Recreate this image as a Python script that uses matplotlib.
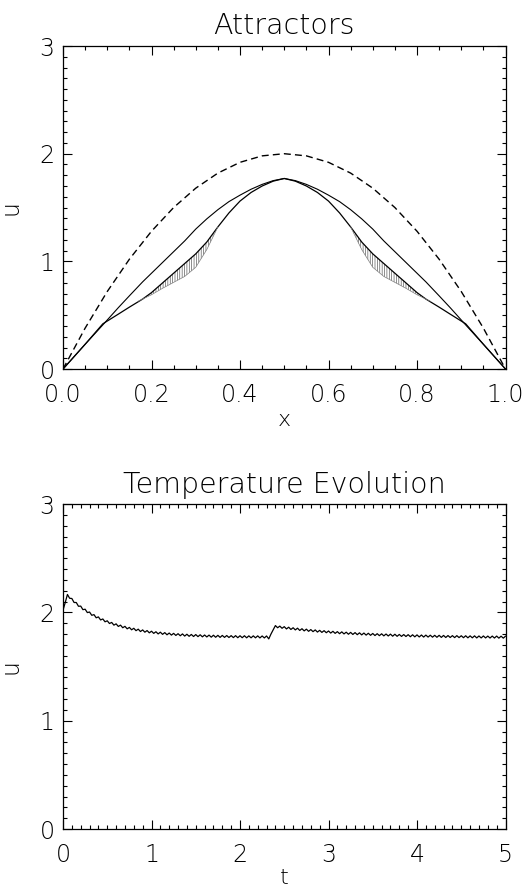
import numpy as np
import matplotlib
matplotlib.use('Agg')
import matplotlib.pyplot as plt
from matplotlib.ticker import MultipleLocator, FormatStrFormatter

# Attractor profiles u(x)
x_dash = [0.0, 0.05, 0.10, 0.15, 0.20, 0.25, 0.30, 0.35, 0.40, 0.45, 0.50,
          0.55, 0.60, 0.65, 0.70, 0.75, 0.80, 0.85, 0.90, 0.95, 1.0]
u_dash = [0.0, 0.38, 0.72, 1.02, 1.28, 1.50, 1.68, 1.82, 1.92, 1.98, 2.00,
          1.98, 1.92, 1.82, 1.68, 1.50, 1.28, 1.02, 0.72, 0.38, 0.0]

x_sol = [0.0, 0.05, 0.09, 0.125, 0.15, 0.18, 0.20, 0.225, 0.25, 0.275, 0.30,
         0.325, 0.35, 0.375, 0.40, 0.425, 0.45, 0.475, 0.50,
         0.525, 0.55, 0.575, 0.60, 0.625, 0.65, 0.675, 0.70, 0.725, 0.75,
         0.775, 0.80, 0.82, 0.85, 0.875, 0.91, 0.95, 1.0]
u_outer = [0.0, 0.23, 0.41, 0.57, 0.68, 0.81, 0.89, 0.99, 1.09, 1.19, 1.30,
           1.395, 1.48, 1.555, 1.615, 1.67, 1.715, 1.75, 1.77,
           1.75, 1.715, 1.67, 1.615, 1.555, 1.48, 1.395, 1.30, 1.19, 1.09,
           0.99, 0.89, 0.81, 0.68, 0.57, 0.41, 0.23, 0.0]
u_inner = [0.0, 0.23, 0.42, 0.51, 0.575, 0.65, 0.71, 0.80, 0.89, 0.98, 1.07,
           1.18, 1.32, 1.45, 1.56, 1.64, 1.70, 1.745, 1.77,
           1.745, 1.70, 1.64, 1.56, 1.45, 1.32, 1.18, 1.07, 0.98, 0.89,
           0.80, 0.71, 0.65, 0.575, 0.51, 0.42, 0.23, 0.0]

# lens shaped bands traced by the attractor
x_band_l = [0.17, 0.20, 0.225, 0.25, 0.275, 0.30, 0.325, 0.35]
band_l_top = [0.63, 0.71, 0.80, 0.89, 0.98, 1.07, 1.18, 1.32]
band_l_bot = [0.63, 0.69, 0.75, 0.805, 0.86, 0.945, 1.11, 1.32]
x_band_r = [0.65, 0.675, 0.70, 0.725, 0.75, 0.775, 0.80, 0.83]
band_r_top = [1.32, 1.18, 1.07, 0.98, 0.89, 0.80, 0.71, 0.63]
band_r_bot = [1.32, 1.11, 0.945, 0.86, 0.805, 0.75, 0.69, 0.63]

# Temperature u(t), sampled every 0.025
t_step = 0.025
u_t = [2.020, 2.090, 2.165, 2.130, 2.128, 2.091, 2.091, 2.056, 2.058, 2.025,
       2.029, 1.998, 2.003, 1.973, 1.979, 1.950, 1.958, 1.930, 1.939, 1.913,
       1.922, 1.897, 1.907, 1.882, 1.894, 1.870, 1.882, 1.858, 1.871, 1.848,
       1.861, 1.839, 1.853, 1.831, 1.845, 1.823, 1.838, 1.817, 1.832, 1.811,
       1.826, 1.806, 1.821, 1.801, 1.817, 1.797, 1.813, 1.793, 1.809, 1.790,
       1.806, 1.787, 1.803, 1.784, 1.801, 1.781, 1.798, 1.779, 1.796, 1.777,
       1.795, 1.776, 1.793, 1.774, 1.791, 1.773, 1.790, 1.771, 1.789, 1.770,
       1.788, 1.769, 1.787, 1.769, 1.786, 1.768, 1.785, 1.767, 1.785, 1.766,
       1.784, 1.766, 1.784, 1.765, 1.783, 1.765, 1.783, 1.765, 1.783, 1.764,
       1.782, 1.764, 1.782, 1.755, 1.800, 1.840, 1.878, 1.858, 1.873, 1.853,
       1.868, 1.847, 1.863, 1.842, 1.858, 1.838, 1.854, 1.833, 1.849, 1.829,
       1.845, 1.825, 1.841, 1.822, 1.838, 1.818, 1.834, 1.815, 1.831, 1.812,
       1.828, 1.809, 1.825, 1.806, 1.822, 1.803, 1.820, 1.801, 1.817, 1.798,
       1.815, 1.796, 1.813, 1.794, 1.811, 1.792, 1.809, 1.790, 1.807, 1.788,
       1.805, 1.786, 1.803, 1.785, 1.802, 1.783, 1.800, 1.782, 1.799, 1.780,
       1.798, 1.779, 1.796, 1.778, 1.795, 1.777, 1.794, 1.775, 1.793, 1.774,
       1.792, 1.773, 1.791, 1.772, 1.790, 1.772, 1.789, 1.771, 1.788, 1.770,
       1.788, 1.769, 1.787, 1.768, 1.786, 1.768, 1.785, 1.767, 1.785, 1.767,
       1.784, 1.766, 1.784, 1.765, 1.783, 1.765, 1.783, 1.764, 1.782, 1.764,
       1.782, 1.764, 1.781, 1.763, 1.781, 1.763, 1.781, 1.762, 1.780, 1.762,
       1.780]
t = np.arange(len(u_t)) * t_step

plt.rcParams['font.family'] = ['DejaVu Sans']
plt.rcParams['font.weight'] = 'light'
plt.rcParams['axes.titleweight'] = 'light'
plt.rcParams['axes.labelweight'] = 'light'
plt.rcParams['hatch.linewidth'] = 0.45

fig = plt.figure(figsize=(5.29, 8.94), dpi=100)
ax1 = fig.add_axes([0.1191, 0.5872, 0.8365, 0.3613])
ax2 = fig.add_axes([0.1191, 0.0727, 0.8365, 0.3635])


def idl_axes(ax, xmaj, xmin):
    ax.set_ylim(0, 3)
    ax.xaxis.set_major_locator(MultipleLocator(xmaj))
    ax.xaxis.set_minor_locator(MultipleLocator(xmin))
    ax.yaxis.set_major_locator(MultipleLocator(1))
    ax.yaxis.set_minor_locator(MultipleLocator(0.1))
    ax.tick_params(which='both', direction='in', top=True, right=True, width=0.8)
    ax.tick_params(which='major', length=6.5)
    ax.tick_params(which='minor', length=3)
    ax.tick_params(axis='x', which='major', labelsize=17, pad=10)
    ax.tick_params(axis='y', which='major', labelsize=17, pad=6)
    for s in ax.spines.values():
        s.set_linewidth(0.9)


# Attractors
ax1.plot(x_dash, u_dash, color='black', lw=1.0, dashes=(5, 3))
ax1.plot(x_sol, u_outer, color='black', lw=0.8)
ax1.plot(x_sol, u_inner, color='black', lw=0.9)
ax1.fill_between(x_band_l, band_l_bot, band_l_top, facecolor='none',
                 edgecolor='0.3', hatch='|||||||', lw=0)
ax1.fill_between(x_band_r, band_r_bot, band_r_top, facecolor='none',
                 edgecolor='0.3', hatch='|||||||', lw=0)
ax1.plot(x_band_l, band_l_bot, color='0.5', lw=0.5)
ax1.plot(x_band_r, band_r_bot, color='0.5', lw=0.5)
ax1.set_xlim(0, 1)
idl_axes(ax1, 0.2, 0.05)
ax1.xaxis.set_major_formatter(FormatStrFormatter('%.1f'))
ax1.set_title('Attractors', fontsize=20.5, pad=9)
ax1.set_xlabel('x', fontsize=16, labelpad=2)
ax1.set_ylabel('u', fontsize=17, labelpad=12)

# Temperature Evolution
ax2.plot(t, u_t, color='black', lw=0.9)
ax2.set_xlim(0, 5)
idl_axes(ax2, 1, 0.1)
ax2.set_title('Temperature Evolution', fontsize=20.5, pad=8)
ax2.set_xlabel('t', fontsize=16, labelpad=1)
ax2.set_ylabel('u', fontsize=17, labelpad=12)

fig.savefig('out.png', dpi=100)
